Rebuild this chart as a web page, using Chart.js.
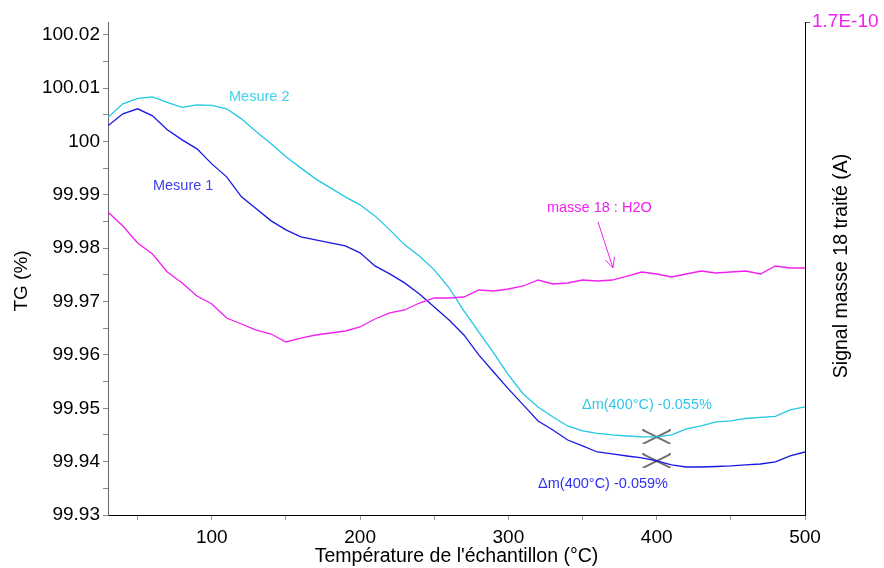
<!DOCTYPE html>
<html>
<head>
<meta charset="utf-8">
<script src="https://cdn.jsdelivr.net/npm/chart.js@4.4.1/dist/chart.umd.min.js"></script>
<style>
  html, body { margin: 0; padding: 0; background: #fff; }
  #wrap { width: 884px; height: 568px; position: relative; }
</style>
</head>
<body>
<div id="wrap"><canvas id="chart"></canvas></div>
<script>
// temperature grid (°C)
const temps = [30, 40, 50, 60, 70, 80, 90, 100, 110, 120, 130, 140, 150, 160, 170, 180,
  190, 200, 210, 220, 230, 240, 250, 260, 270, 280, 290, 300, 310, 320, 330, 340, 350,
  360, 370, 380, 390, 400, 410, 420, 430, 440, 450, 460, 470, 480, 490, 500]

// TG (%) - Mesure 1
const mesure1 = [100.00294, 100.00519, 100.00613, 100.00481, 100.00219, 100.00031, 99.99863,
  99.99581, 99.99338, 99.98963, 99.98738, 99.98513, 99.98344, 99.98213, 99.98156, 99.98100,
  99.98044, 99.97913, 99.97669, 99.97519, 99.97350, 99.97144, 99.96900, 99.96656, 99.96375,
  99.96000, 99.95681, 99.95363, 99.95063, 99.94763, 99.94594, 99.94406, 99.94294, 99.94181,
  99.94144, 99.94106, 99.94069, 99.94013, 99.93938, 99.93900, 99.93900, 99.93909, 99.93919,
  99.93938, 99.93956, 99.93994, 99.94106, 99.94181]

// TG (%) - Mesure 2
const mesure2 = [100.00453, 100.00706, 100.00809, 100.00838, 100.00734, 100.00641, 100.00688,
  100.00678, 100.00613, 100.00425, 100.00181, 99.99956, 99.99713, 99.99506, 99.99300, 99.99131,
  99.98963, 99.98813, 99.98606, 99.98344, 99.98063, 99.97856, 99.97594, 99.97256, 99.96825,
  99.96431, 99.96038, 99.95625, 99.95269, 99.95025, 99.94838, 99.94669, 99.94575, 99.94528,
  99.94500, 99.94481, 99.94463, 99.94463, 99.94500, 99.94613, 99.94669, 99.94744, 99.94763,
  99.94809, 99.94828, 99.94847, 99.94970, 99.95025]

// signal masse 18 (x 1E-10 A)
const h2oSignal = [1.0448, 0.9966, 0.9379, 0.9000, 0.8379, 0.8000, 0.7552, 0.7276, 0.6793,
  0.6586, 0.6379, 0.6241, 0.5966, 0.6103, 0.6207, 0.6276, 0.6345, 0.6483, 0.6759, 0.6966,
  0.7069, 0.7310, 0.7483, 0.7483, 0.7517, 0.7759, 0.7724, 0.7793, 0.7897, 0.8103, 0.7966,
  0.8000, 0.8103, 0.8069, 0.8103, 0.8241, 0.8379, 0.8310, 0.8207, 0.8310, 0.8414, 0.8345,
  0.8379, 0.8414, 0.8310, 0.8586, 0.8517, 0.8517]

// crosses at 400 °C
const markerTemps = [400, 400]
const markerValues = [99.94463, 99.94013]

const tgTicks = [99.93, 99.94, 99.95, 99.96, 99.97, 99.98, 99.99, 100, 100.01, 100.02]
const tgTickLabels = ["99.93", "99.94", "99.95", "99.96", "99.97", "99.98", "99.99", "100", "100.01", "100.02"]
const tempTicks = [100, 200, 300, 400, 500]
const h2oTopTick = 1.7
const h2oTopLabel = "1.7E-10"

const FONT = "'Liberation Sans', Arial, sans-serif"
const CYAN = "#20c8e4"
const BLUE = "#1818e0"
const MAGENTA = "#f020f0"

const toPoints = (xs, ys) => xs.map((x, i) => ({ x, y: ys[i] }))

// flattened X used for the 400 °C markers
const crossImg = document.createElement("canvas")
crossImg.width = 29
crossImg.height = 15
{
  const c = crossImg.getContext("2d")
  c.strokeStyle = "#000"
  c.lineWidth = 1.1
  c.beginPath()
  c.moveTo(0.5, 0.5); c.lineTo(28.5, 14.5)
  c.moveTo(0.5, 14.5); c.lineTo(28.5, 0.5)
  c.stroke()
}

const notes = [
  { text: "Mesure 2", x: 111.6, y: 100.00838, color: "#40d0ea" },
  { text: "Mesure 1", x: 60.3, y: 99.99169, color: "#4040f0" },
  { text: "masse 18 : H2O", x: 326, y: 99.98756, color: MAGENTA },
  { text: "\u0394m(400\u00b0C) -0.055%", x: 349.6, y: 99.95063, color: "#30c8ea" },
  { text: "\u0394m(400\u00b0C) -0.059%", x: 320, y: 99.93581, color: "#3030f0" }
]
const arrowFrom = { x: 360.4, y: 99.98494 }
const arrowTo = { x: 370.5, y: 99.97631 }

const notesPlugin = {
  id: "notes",
  afterDatasetsDraw(chart) {
    const { ctx, scales: { x, y } } = chart
    ctx.save()
    ctx.font = "14.5px " + FONT
    ctx.textBaseline = "middle"
    ctx.textAlign = "left"
    notes.forEach((n) => {
      ctx.fillStyle = n.color
      ctx.fillText(n.text, x.getPixelForValue(n.x), y.getPixelForValue(n.y))
    })
    // arrow to the H2O curve
    const x0 = x.getPixelForValue(arrowFrom.x), y0 = y.getPixelForValue(arrowFrom.y)
    const x1 = x.getPixelForValue(arrowTo.x), y1 = y.getPixelForValue(arrowTo.y)
    const ang = Math.atan2(y1 - y0, x1 - x0)
    ctx.strokeStyle = MAGENTA
    ctx.lineWidth = 1
    ctx.beginPath()
    ctx.moveTo(x0, y0); ctx.lineTo(x1, y1)
    for (const d of [-0.45, 0.45]) {
      ctx.moveTo(x1, y1)
      ctx.lineTo(x1 - 11 * Math.cos(ang + d), y1 - 11 * Math.sin(ang + d))
    }
    ctx.stroke()
    ctx.restore()

    // axis titles on the sides
    ctx.save()
    ctx.font = "19px " + FONT
    ctx.fillStyle = "#000"
    ctx.textAlign = "center"
    ctx.textBaseline = "middle"
    ctx.translate(22, 281)
    ctx.rotate(-Math.PI / 2)
    ctx.fillText("TG (%)", 0, 0)
    ctx.restore()

    ctx.save()
    ctx.font = "19.5px " + FONT
    ctx.fillStyle = "#000"
    ctx.textAlign = "center"
    ctx.textBaseline = "middle"
    ctx.translate(842, 266)
    ctx.rotate(-Math.PI / 2)
    ctx.fillText("Signal masse 18 trait\u00e9 (A)", 0, 0)
    ctx.restore()
  }
}

const near = (a, b) => Math.abs(a - b) < 1e-6

new Chart(document.getElementById("chart"), {
  type: "line",
  data: {
    datasets: [
      { label: "masse 18 : H2O", data: toPoints(temps, h2oSignal), yAxisID: "y2",
        borderColor: MAGENTA, borderWidth: 1.3, pointRadius: 0 },
      { label: "Mesure 2", data: toPoints(temps, mesure2), yAxisID: "y",
        borderColor: CYAN, borderWidth: 1.3, pointRadius: 0 },
      { label: "Mesure 1", data: toPoints(temps, mesure1), yAxisID: "y",
        borderColor: BLUE, borderWidth: 1.3, pointRadius: 0 },
      { label: "markers", data: toPoints(markerTemps, markerValues), yAxisID: "y",
        showLine: false, pointStyle: crossImg, pointRadius: 7 }
    ]
  },
  options: {
    responsive: true,
    maintainAspectRatio: false,
    animation: false,
    layout: { padding: { top: 22, left: 0, right: 0, bottom: 0 } },
    plugins: { legend: { display: false }, tooltip: { enabled: false } },
    scales: {
      x: {
        type: "linear",
        min: 30,
        max: 500,
        afterFit: (s) => { s.height = 53 },
        afterBuildTicks: (s) => {
          s.ticks = [50, 100, 150, 200, 250, 300, 350, 400, 450, 500].map((v) => ({ value: v }))
        },
        border: { color: "#000", width: 1 },
        grid: { drawOnChartArea: false, tickLength: 5, color: "#999" },
        ticks: {
          color: "#000",
          padding: 6,
          maxRotation: 0,
          autoSkip: false,
          font: { family: FONT, size: 19 },
          callback: (v) => (tempTicks.includes(v) ? String(v) : "")
        },
        title: {
          display: true,
          text: "Temp\u00e9rature de l'\u00e9chantillon (\u00b0C)",
          color: "#000",
          font: { family: FONT, size: 19.5 },
          padding: { top: 0, bottom: 0 }
        }
      },
      y: {
        position: "left",
        min: 99.93,
        max: 100.0224,
        afterFit: (s) => { s.width = 108 },
        afterBuildTicks: (s) => {
          const list = []
          tgTicks.forEach((t, i) => {
            list.push({ value: t })
            if (i < tgTicks.length - 1) list.push({ value: t + 0.005 })
          })
          s.ticks = list
        },
        border: { color: "#666", width: 1 },
        grid: { drawOnChartArea: false, tickLength: 5, color: "#888" },
        ticks: {
          color: "#000",
          padding: 3,
          autoSkip: false,
          font: { family: FONT, size: 19 },
          callback: (v) => {
            const i = tgTicks.findIndex((t) => near(t, v))
            return i >= 0 ? tgTickLabels[i] : ""
          }
        }
      },
      y2: {
        position: "right",
        min: 0,
        max: h2oTopTick,
        afterFit: (s) => { s.width = 79 },
        afterBuildTicks: (s) => { s.ticks = [{ value: h2oTopTick }] },
        border: { color: "#000", width: 1 },
        grid: { drawOnChartArea: false, tickLength: 5, color: "#555" },
        ticks: {
          color: MAGENTA,
          padding: 2,
          autoSkip: false,
          font: { family: FONT, size: 19 },
          callback: () => h2oTopLabel
        }
      }
    }
  },
  plugins: [notesPlugin]
})
</script>
</body>
</html>
